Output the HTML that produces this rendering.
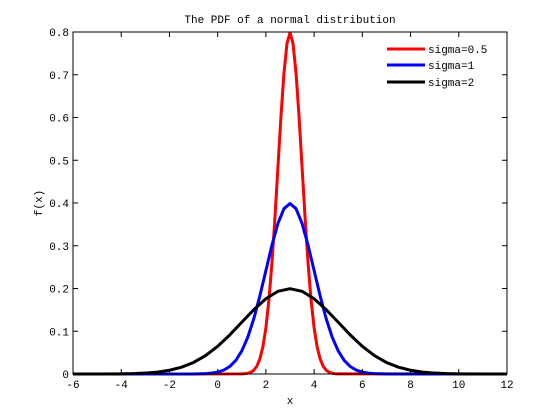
<!DOCTYPE html>
<html><head><meta charset="utf-8"><style>
html,body{margin:0;padding:0;background:#fff;}
svg{display:block;font-family:"Liberation Mono","DejaVu Sans Mono",monospace;}
</style></head><body>
<svg id="chart" width="560" height="420" xmlns="http://www.w3.org/2000/svg"></svg>
<script>
const xTicks = [-6,-4,-2,0,2,4,6,8,10,12];
const yTicks = [0,0.1,0.2,0.3,0.4,0.5,0.6,0.7,0.8];
const yTickLabels = ["0","0.1","0.2","0.3","0.4","0.5","0.6","0.7","0.8"];
const seriesNames = ["sigma=0.5","sigma=1","sigma=2"];
const seriesColors = ["#ff0000","#0000ff","#000000"];
const x1 = [-6,1,1.125,1.25,1.375,1.5,1.625,1.75,1.875,2,2.125,2.25,2.375,2.5,2.625,2.75,2.875,3,3.125,3.25,3.375,3.5,3.625,3.75,3.875,4,4.125,4.25,4.375,4.5,4.625,4.75,4.875,5,12];
const y1 = [0,0.00027,0.0007,0.00175,0.00406,0.00886,0.0182,0.035,0.0635,0.108,0.1726,0.259,0.3653,0.484,0.6023,0.704,0.7734,0.798,0.7734,0.704,0.6023,0.484,0.3653,0.259,0.1726,0.108,0.0635,0.035,0.0182,0.00886,0.00406,0.00175,0.0007,0.00027,0];
const x2 = [-6,-1,-0.5,-0.25,0,0.25,0.5,0.75,1,1.25,1.5,1.75,2,2.25,2.5,2.75,3,3.25,3.5,3.75,4,4.25,4.5,4.75,5,5.25,5.5,5.75,6,6.25,6.5,7,12];
const y2 = [0,0.0001,0.0009,0.002,0.0044,0.0091,0.0175,0.0317,0.054,0.0863,0.1295,0.1826,0.242,0.3011,0.3521,0.3867,0.3989,0.3867,0.3521,0.3011,0.242,0.1826,0.1295,0.0863,0.054,0.0317,0.0175,0.0091,0.0044,0.002,0.0009,0.0001,0];
const x3 = [-6,-5,-4,-3.5,-3,-2.5,-2,-1.5,-1,-0.5,0,0.5,1,1.5,2,2.5,3,3.5,4,4.5,5,5.5,6,6.5,7,7.5,8,8.5,9,9.5,10,11,12];
const y3 = [0,0.0001,0.0004,0.001,0.0022,0.0045,0.0088,0.0159,0.027,0.0431,0.0648,0.0913,0.121,0.1506,0.176,0.1935,0.1995,0.1935,0.176,0.1506,0.121,0.0913,0.0648,0.0431,0.027,0.0159,0.0088,0.0045,0.0022,0.001,0.0004,0.0001,0];
const seriesX = [x1,x2,x3];
const seriesY = [y1,y2,y3];

const L=73,R=507,T=32,B=374;
const sx = v => L + (v - (-6)) / 18 * (R - L);
const sy = v => B - v / 0.8 * (B - T);
const svg = document.getElementById('chart');
const NS = "http://www.w3.org/2000/svg";
function mk(tag, attrs){const e=document.createElementNS(NS,tag);for(const k in attrs)e.setAttribute(k,attrs[k]);svg.appendChild(e);return e;}

// title
let t = mk('text',{x:290,y:23,'font-size':11,'text-anchor':'middle',fill:'#000'});
t.textContent = "The PDF of a normal distribution";



// series
for (let s=0;s<3;s++){
  const pts = seriesX[s].map((xv,i)=>sx(xv).toFixed(2)+","+sy(seriesY[s][i]).toFixed(2)).join(" ");
  const p = mk('polyline',{points:pts,fill:'none',stroke:seriesColors[s],'stroke-width':3,'stroke-linejoin':'round'});
  
  
}

// axes box
const box = mk('rect',{x:L,y:T,width:R-L,height:B-T,fill:'none',stroke:'#000','stroke-width':1});



// x ticks
xTicks.forEach(v=>{
  const X=sx(v);
  mk('line',{x1:X,x2:X,y1:B,y2:B-5,stroke:'#000'});
  mk('line',{x1:X,x2:X,y1:T,y2:T+5,stroke:'#000'});
  const l = mk('text',{x:X,y:B+14,'font-size':11,'text-anchor':'middle',fill:'#000'});
  l.textContent = String(v);
  
  
});
// y ticks
yTicks.forEach((v,i)=>{
  const Y=sy(v);
  mk('line',{x1:L,x2:L+5,y1:Y,y2:Y,stroke:'#000'});
  mk('line',{x1:R,x2:R-5,y1:Y,y2:Y,stroke:'#000'});
  const l = mk('text',{x:L-4,y:Y+4,'font-size':11,'text-anchor':'end',fill:'#000'});
  l.textContent = yTickLabels[i];
  
  
});
// axis titles
let xt = mk('text',{x:290,y:404,'font-size':11,'text-anchor':'middle',fill:'#000'});
xt.textContent = "x";


let yt = mk('text',{x:0,y:0,'font-size':11,'text-anchor':'middle',fill:'#000',transform:'translate(42,203) rotate(-90)'});
yt.textContent = "f(x)";



// legend
const legY = [49,65,82];
for (let s=0;s<3;s++){
  const ln = mk('line',{x1:387,x2:425,y1:legY[s],y2:legY[s],stroke:seriesColors[s],'stroke-width':3});
  
  
  const lt = mk('text',{x:428,y:legY[s]+4,'font-size':11,fill:'#000'});
  lt.textContent = seriesNames[s];
  
  
}
</script>
</body></html>
